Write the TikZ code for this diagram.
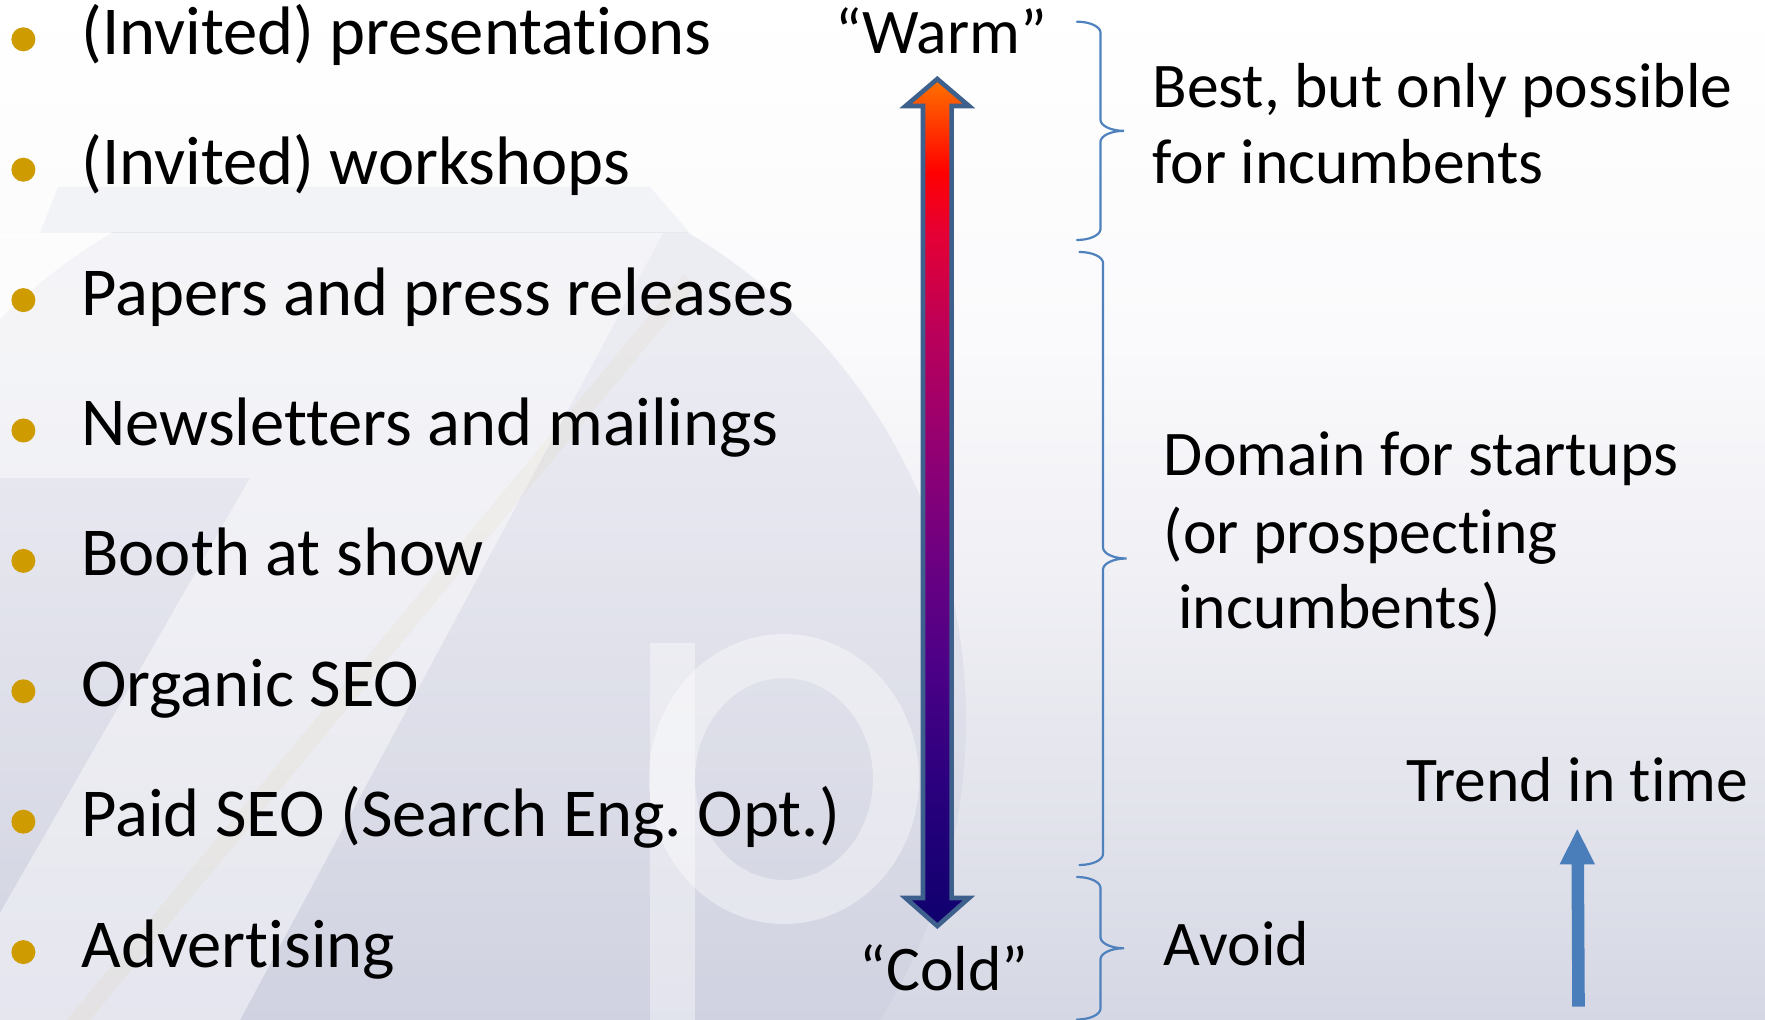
\documentclass[tikz,border=0pt]{standalone}
\usepackage{fontspec}
\setmainfont{Carlito}[Ligatures={NoCommon,NoContextual}]

\definecolor{bulletgold}{RGB}{206,156,0}
\definecolor{bracecol}{RGB}{79,129,189}
\definecolor{arrowedge}{RGB}{62,96,140}
\definecolor{trendblue}{RGB}{74,126,187}
\definecolor{markshade}{RGB}{196,198,218}

% warm (top) to cold (bottom) fill of the scale arrow
\pgfdeclareverticalshading{warmcold}{100bp}{%
  rgb(0bp)=(0.06,0,0.43); rgb(25bp)=(0.06,0,0.43); rgb(33bp)=(0.16,0,0.49);
  rgb(40bp)=(0.29,0,0.53); rgb(46bp)=(0.41,0,0.51); rgb(53bp)=(0.57,0,0.45);
  rgb(60bp)=(0.73,0,0.35); rgb(66bp)=(0.9,0,0.2); rgb(69.5bp)=(1,0,0);
  rgb(75bp)=(1,0.45,0); rgb(100bp)=(1,0.45,0)}
% slide background, white at the top fading to a pale lavender
\pgfdeclareverticalshading{slidebg}{100bp}{%
  rgb(0bp)=(0.835,0.843,0.894); rgb(25bp)=(0.835,0.843,0.894);
  rgb(36bp)=(0.89,0.895,0.925); rgb(47bp)=(0.94,0.94,0.96);
  rgb(58bp)=(0.98,0.98,0.988); rgb(75bp)=(1,1,1); rgb(100bp)=(1,1,1)}

\tikzset{
  item/.style={font=\fontsize{34.3}{40}\selectfont, inner sep=0pt, anchor=base west},
  note/.style={font=\fontsize{31.8}{38}\selectfont, inner sep=0pt, anchor=base west},
  dot/.style={circle, fill=bulletgold, minimum size=12pt, inner sep=0pt},
  bracestyle/.style={draw=bracecol, line width=1.1pt, line cap=round},
}

% right curly brace: x of the ends, y of top end, y of bottom end
\newcommand\slidebrace[3]{%
  \pgfmathsetmacro\bracemid{(#2+#3)/2}%
  \draw[bracestyle] (#1,#2)
    .. controls ({#1+13},#2) and ({#1+23.5},{#2+5}) .. ({#1+23.5},{#2+11})
    -- ({#1+23.5},{\bracemid-11})
    .. controls ({#1+23.5},{\bracemid-5}) and ({#1+34},\bracemid) .. ({#1+47},\bracemid)
    .. controls ({#1+34},\bracemid) and ({#1+23.5},{\bracemid+5}) .. ({#1+23.5},{\bracemid+11})
    -- ({#1+23.5},{#3-11})
    .. controls ({#1+23.5},{#3-5}) and ({#1+13},#3) .. (#1,#3);}

\begin{document}
\frenchspacing
\begin{tikzpicture}[x=0.5pt,y=-0.5pt]
\useasboundingbox (0,0) rectangle (1765,1020);

% background with faint watermark (disc, Z and p)
\shade[shading=slidebg] (0,0) rectangle (1765,1020);
\begin{scope}
  \clip (0,233) rectangle (1765,1020);
  \fill[markshade, opacity=0.27] (400,720) circle [radius=283pt];
\end{scope}
\fill[markshade, opacity=0.16] (58,187) -- (650,187) -- (690,233) -- (40,233) -- cycle;
\fill[white, opacity=0.45] (0,233) -- (663,233) -- (240,1020) -- (0,1020)
  -- (0,913) -- (250,478) -- (0,478) -- cycle;
\draw[bulletgold, opacity=0.045, line width=9pt] (690,280) -- (70,1030);
\fill[white, opacity=0.4, even odd rule]
  (784,779) ellipse [x radius=67.5pt, y radius=72.5pt]
  (784,779) ellipse [x radius=44.5pt, y radius=50.5pt];
\fill[white, opacity=0.4] (650,643) rectangle (695,1020);

% bulleted list
\foreach \i/\txt in {1/(Invited) presentations, 2/(Invited) workshops,
    3/Papers and press releases, 4/Newsletters and mailings,
    5/Booth at show, 6/Organic SEO, 7/Paid SEO (Search Eng. Opt.),
    8/Advertising}{
  \node[dot] (d\i) at (23.4,{39.3+130.4*(\i-1)}) {};
  \node[item] (t\i) at (81,{54.3+130.4*(\i-1)}) {\txt};
}

% warm / cold scale
\node[note, anchor=base] (warm) at (941,54) {“Warm”};
\node[note, anchor=base] (cold) at (944,990) {“Cold”};
\path[shading=warmcold, shade, draw=arrowedge, line width=2.3pt, line join=miter]
  (937.3,79) -- (969,106) -- (951.6,106) -- (951.6,898) -- (969,898)
  -- (937.3,926) -- (905.6,898) -- (923,898) -- (923,106) -- (905.6,106) -- cycle;

% braces and their notes
\slidebrace{1077}{21.7}{240}
\slidebrace{1079.5}{252}{865}
\slidebrace{1077}{877}{1019.5}

\node[note] (best1) at (1152,108) {Best, but only possible};
\node[note] (best2) at (1152,183.5) {for incumbents};
\node[note] (dom1) at (1163.5,476) {Domain for startups};
\node[note] (dom2) at (1163.5,554) {(or prospecting};
\node[note] (dom3) at (1163.5,628) {\ incumbents)};
\node[note] (avoid) at (1163.5,965) {Avoid};

% trend
\node[note] (trend) at (1406,801) {Trend in time};
\fill[trendblue] (1577.3,829.3) -- (1595,864.3) -- (1584,864.3) -- (1584.8,1006.7)
  -- (1572.2,1006.7) -- (1571.5,864.3) -- (1559.6,864.3) -- cycle;
\end{tikzpicture}
\end{document}
